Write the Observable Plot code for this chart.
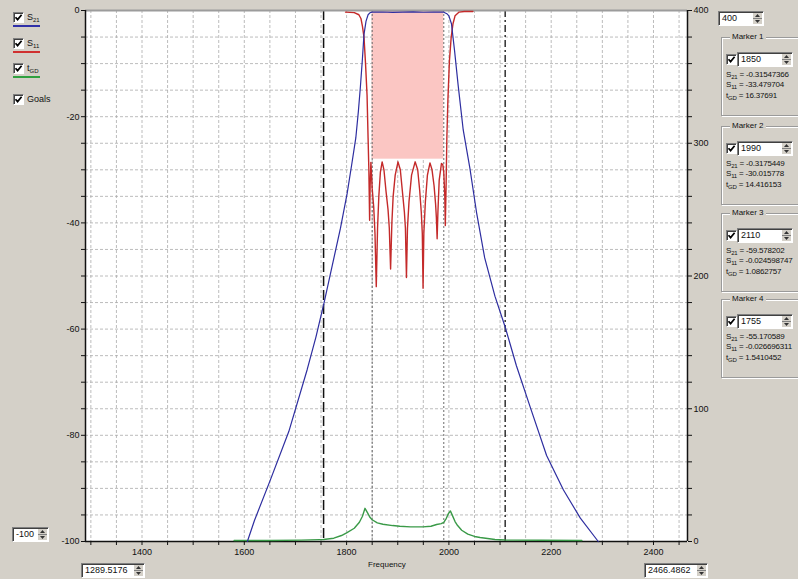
<!DOCTYPE html>
<html><head><meta charset="utf-8">
<script src="https://cdn.jsdelivr.net/npm/d3@7"></script>
<script src="https://cdn.jsdelivr.net/npm/@observablehq/plot@0.6"></script>
<style>
html,body{margin:0;padding:0;}
body{width:798px;height:579px;overflow:hidden;background:#d4d0c8;position:relative;font-family:"Liberation Sans",Arial,sans-serif;font-size:9px;color:#111;}
#chart{position:absolute;left:0;top:0;}
.cb{position:absolute;width:9px;height:9px;background:#fff;border:1px solid;border-color:#808080 #fff #fff #808080;box-shadow:inset 1px 1px 0 #404040;box-sizing:content-box;}
.cb svg{position:absolute;left:0;top:0;}
.lbl{position:absolute;white-space:nowrap;line-height:10px;}
sub{font-size:6px;vertical-align:-2px;line-height:0;}
.spin{position:absolute;background:#fff;border:1px solid;border-color:#808080 #fff #fff #808080;box-shadow:inset 1px 1px 0 #404040;box-sizing:border-box;}
.spin .t{position:absolute;left:3px;top:1px;line-height:11px;font-size:9px;white-space:nowrap;}
.spin .b{position:absolute;right:1px;top:1px;bottom:1px;width:9px;background:#d4d0c8;}
.grp{position:absolute;border:1px solid #9a9a9a;box-shadow:inset 1px 1px 0 #fff,1px 1px 0 #fff;}
.grp .title{position:absolute;top:-6px;left:8px;background:#d4d0c8;padding:0 2px;line-height:10px;font-size:8px;}
.mt{position:absolute;white-space:nowrap;font-size:8px;line-height:10px;letter-spacing:-0.2px;}
</style>
</head><body>
<div id="chart"></div>
<script>
// ---------- data ----------
const xDomain = [1289.5176, 2466.4862];
const yDomain = [-100, 0];
const gdDomain = [0, 400];

const xTickLabels = [1400, 1600, 1800, 2000, 2200, 2400];
const yTickLabels = [0, -20, -40, -60, -80, -100];
const gdTickLabels = [0, 100, 200, 300, 400];

const freqS21 = [1606,1620,1651,1687,1723,1740,1756,1772,1788,1801,1810,1818,1823,1827,1831,1834,1838,1842,1846,1850,1870,1890,1910,1930,1950,1970,1990,1996,2000,2005,2011,2018,2028,2041,2054,2070,2090,2110,2132,2159,2191,2224,2257,2292];
const dbS21   = [-100,-96,-88.4,-79.3,-67.6,-61.5,-55,-48,-41,-34.5,-29,-24,-19,-14.3,-9,-4.5,-2,-0.8,-0.4,-0.32,-0.28,-0.35,-0.3,-0.27,-0.33,-0.3,-0.32,-0.6,-1.0,-2.5,-7.5,-14,-22.5,-29.7,-38,-46.6,-53.8,-59.6,-66.9,-74.7,-83.8,-90.3,-95.6,-100];

const freqS11 = [1798,1815,1824,1828,1831,1834,1837,1840,1842,1843.5,1845,1846,1847.5,1850,1853,1855.5,1858,1860.5,1863,1866,1869.5,1873,1877,1881,1883.5,1886,1888.5,1891,1895,1900.5,1905,1909,1913,1915,1917,1919,1922,1927,1934,1939,1943,1946,1948,1949.5,1951,1954,1958,1963,1967,1971,1974,1975.5,1977,1978.5,1981,1985.5,1988,1990,1992,1993,1994.5,1996,1998,2001,2004.5,2008,2012,2020,2030,2047];
const dbS11   = [-0.3,-0.4,-0.8,-1.5,-3,-5,-10,-16,-24,-30,-39.5,-33,-28.6,-33.5,-37,-42,-52,-41,-35,-30.5,-28.5,-30,-34,-37.5,-41,-48.7,-40,-35,-31,-28.5,-30,-34,-38,-41,-50.3,-41,-36,-31,-28.5,-30,-34,-38,-42,-52.3,-42,-36,-31,-28.7,-30,-33,-36.5,-39,-43,-38,-32,-28.8,-29,-30.5,-35,-40.5,-33,-24,-17,-9.5,-5,-2.5,-1,-0.3,-0.2,-0.2];

const freqGD = [1580,1650,1711,1747,1755,1775,1790,1800,1815,1825,1831,1836,1841,1846,1850,1860,1871,1890,1904,1925,1949,1965,1976,1985,1990,1995,1999,2003,2007,2012,2017,2025,2037,2050,2061,2090,2110,2125,2180,2260];
const nsGD   = [0.8,0.8,1.0,1.4,1.54,2.5,4.5,6.5,10,14.5,19,25,21.5,18,16.4,14,13,12,11.5,11,11,11.5,12.8,13.5,14.4,17.5,21,23,19.5,15,12,8.5,5.5,3.8,3,1.5,1.1,1.0,0.9,0.8];

const goalFreq = [1850, 1990];
const goalDb = [-28, 0];

const markerNames = ["Marker 1", "Marker 2", "Marker 3", "Marker 4"];
const markerFreqs = [1850, 1990, 2110, 1755];
const markerS21 = ["-0.31547366", "-0.3175449", "-59.578202", "-55.170589"];
const markerS11 = ["-33.479704", "-30.015778", "-0.024598747", "-0.026696311"];
const markerGD  = ["16.37691", "14.416153", "1.0862757", "1.5410452"];

const legendMain = ["S", "S", "t", "Goals"];
const legendSub  = ["21", "11", "GD", ""];

const spinValues = ["-100", "1289.5176", "2466.4862", "400"];

// ---------- build ----------
const toY = g => yDomain[0] + (g - gdDomain[0]) / (gdDomain[1] - gdDomain[0]) * (yDomain[1] - yDomain[0]);
const s21 = freqS21.map((f, i) => ({f, v: dbS21[i]}));
const s11 = freqS11.map((f, i) => ({f, v: dbS11[i]}));
const gd = freqGD.map((f, i) => ({f, v: toY(nsGD[i])}));
const goalRect = [{x1: goalFreq[0], x2: goalFreq[1], y1: goalDb[0], y2: goalDb[1]}];

const xTicks = d3.range(1300, 2451, 50);
const yTicks = d3.range(-100, 1, 5);
const gridStyle = {stroke: "#ababab", strokeOpacity: 1, strokeWidth: 0.8, strokeDasharray: "3,2"};

const chart = Plot.plot({
  width: 798, height: 579,
  marginLeft: 85, marginRight: 111, marginTop: 10, marginBottom: 38,
  x: {domain: xDomain},
  y: {domain: yDomain},
  style: {background: "transparent", fontFamily: '"Liberation Sans", Arial, sans-serif', fontSize: "9px", color: "#111"},
  marks: [
    Plot.frame({fill: "#fff", stroke: "none"}),
    Plot.gridX(xTicks, gridStyle),
    Plot.gridY(yTicks.filter(d => d > yDomain[0] && d < yDomain[1]), gridStyle),
    Plot.rect(goalRect, {x1: "x1", x2: "x2", y1: "y1", y2: "y2", fill: "#fbc6c3"}),
    Plot.ruleX([markerFreqs[0], markerFreqs[1]], {stroke: "#6a6a6a", strokeWidth: 1, strokeDasharray: "2,2"}),
    Plot.ruleX([markerFreqs[3]], {stroke: "#111", strokeWidth: 1.5, strokeDasharray: "10,4"}),
    Plot.ruleX([markerFreqs[2]], {stroke: "#111", strokeWidth: 1.3, strokeDasharray: "7,3,2,3"}),
    Plot.ruleY([yDomain[1]], {stroke: "#9c9c9c", strokeWidth: 2}),
    Plot.ruleY([yDomain[0]], {stroke: "#111", strokeWidth: 1.5}),
    Plot.ruleX([xDomain[0]], {stroke: "#111", strokeWidth: 1.5}),
    Plot.ruleX([xDomain[1]], {stroke: "#111", strokeWidth: 1.5}),
    Plot.line(gd, {x: "f", y: "v", stroke: "#3a9a48", strokeWidth: 1.4}),
    Plot.line(s11, {x: "f", y: "v", stroke: "#c42a2a", strokeWidth: 1.4}),
    Plot.line(s21, {x: "f", y: "v", stroke: "#2e2ea0", strokeWidth: 1.2}),
    Plot.axisX(xTicks, {anchor: "bottom", tickSize: 4, tickPadding: 3, label: null,
      tickFormat: d => xTickLabels.includes(d) ? String(d) : ""}),
    Plot.axisY(yTicks, {anchor: "left", tickSize: 4, tickPadding: 2, label: null,
      tickFormat: d => yTickLabels.includes(d) ? String(d) : ""}),
    Plot.axisY(yTicks, {anchor: "right", tickSize: 4, tickPadding: 2, label: null,
      tickFormat: d => {
        const g = Math.round((d - yDomain[0]) / (yDomain[1] - yDomain[0]) * (gdDomain[1] - gdDomain[0]) + gdDomain[0]);
        return gdTickLabels.includes(g) ? String(g) : "";
      }})
  ]
});
document.getElementById("chart").appendChild(chart);

// ---------- UI widgets ----------
const body = document.body;
const checkSvg = '<svg width="9" height="9"><path d="M1.5 4.2 L3.6 6.6 L7.6 1.8" fill="none" stroke="#000" stroke-width="1.7"/></svg>';
function checkbox(left, top) {
  const d = document.createElement("div");
  d.className = "cb"; d.style.left = left + "px"; d.style.top = top + "px";
  d.innerHTML = checkSvg; body.appendChild(d);
}
function label(left, top, html, cls) {
  const d = document.createElement("div");
  d.className = cls || "lbl"; d.style.left = left + "px"; d.style.top = top + "px";
  d.innerHTML = html; body.appendChild(d); return d;
}
function spin(left, top, w, h, text) {
  const d = document.createElement("div");
  d.className = "spin";
  Object.assign(d.style, {left: left + "px", top: top + "px", width: w + "px", height: h + "px"});
  const m = (h - 4) / 2;
  d.innerHTML = '<div class="t">' + text + '</div><div class="b"><svg width="9" height="' + (h - 4) + '">' +
    '<path d="M2 ' + (m - 1.5) + ' L4.5 ' + (m - 4.5) + ' L7 ' + (m - 1.5) + 'Z" fill="#333"/>' +
    '<line x1="0" x2="9" y1="' + m + '" y2="' + m + '" stroke="#808080"/>' +
    '<path d="M2 ' + (m + 1.5) + ' L4.5 ' + (m + 4.5) + ' L7 ' + (m + 1.5) + 'Z" fill="#333"/></svg></div>';
  body.appendChild(d);
}

// legend
const legendTop = [12, 38, 63, 94];
const legendColors = ["#3030a8", "#d03030", "#30a040", null];
legendMain.forEach((m, i) => {
  checkbox(13, legendTop[i]);
  label(27, legendTop[i], m + (legendSub[i] ? "<sub>" + legendSub[i] + "</sub>" : ""));
  if (legendColors[i]) {
    const u = document.createElement("div");
    Object.assign(u.style, {position: "absolute", left: "13px", top: (legendTop[i] + 13) + "px", width: "27px", height: "1.5px", background: legendColors[i]});
    body.appendChild(u);
  }
});

// spin boxes
spin(12, 527, 37, 15, spinValues[0]);
spin(81, 563, 64, 15, spinValues[1]);
spin(644, 563, 64, 15, spinValues[2]);
spin(718, 11, 46, 15, spinValues[3]);

// axis title
label(368, 560, "Frequency", "lbl").style.fontSize = "8px";

// marker groups
const groupTop = [37, 126, 213, 299];
markerNames.forEach((name, i) => {
  const g = document.createElement("div");
  g.className = "grp";
  Object.assign(g.style, {left: "721px", top: groupTop[i] + "px", width: "90px", height: "77px"});
  g.innerHTML = '<div class="title">' + name + '</div>';
  body.appendChild(g);
  checkbox(726, groupTop[i] + 17);
  spin(737, groupTop[i] + 15, 56, 15, String(markerFreqs[i]));
  const t0 = groupTop[i] + 33;
  label(726, t0, "S<sub>21</sub> = " + markerS21[i], "mt");
  label(726, t0 + 10.3, "S<sub>11</sub> = " + markerS11[i], "mt");
  label(726, t0 + 20.6, "t<sub>GD</sub> = " + markerGD[i], "mt");
});
</script>
</body></html>
